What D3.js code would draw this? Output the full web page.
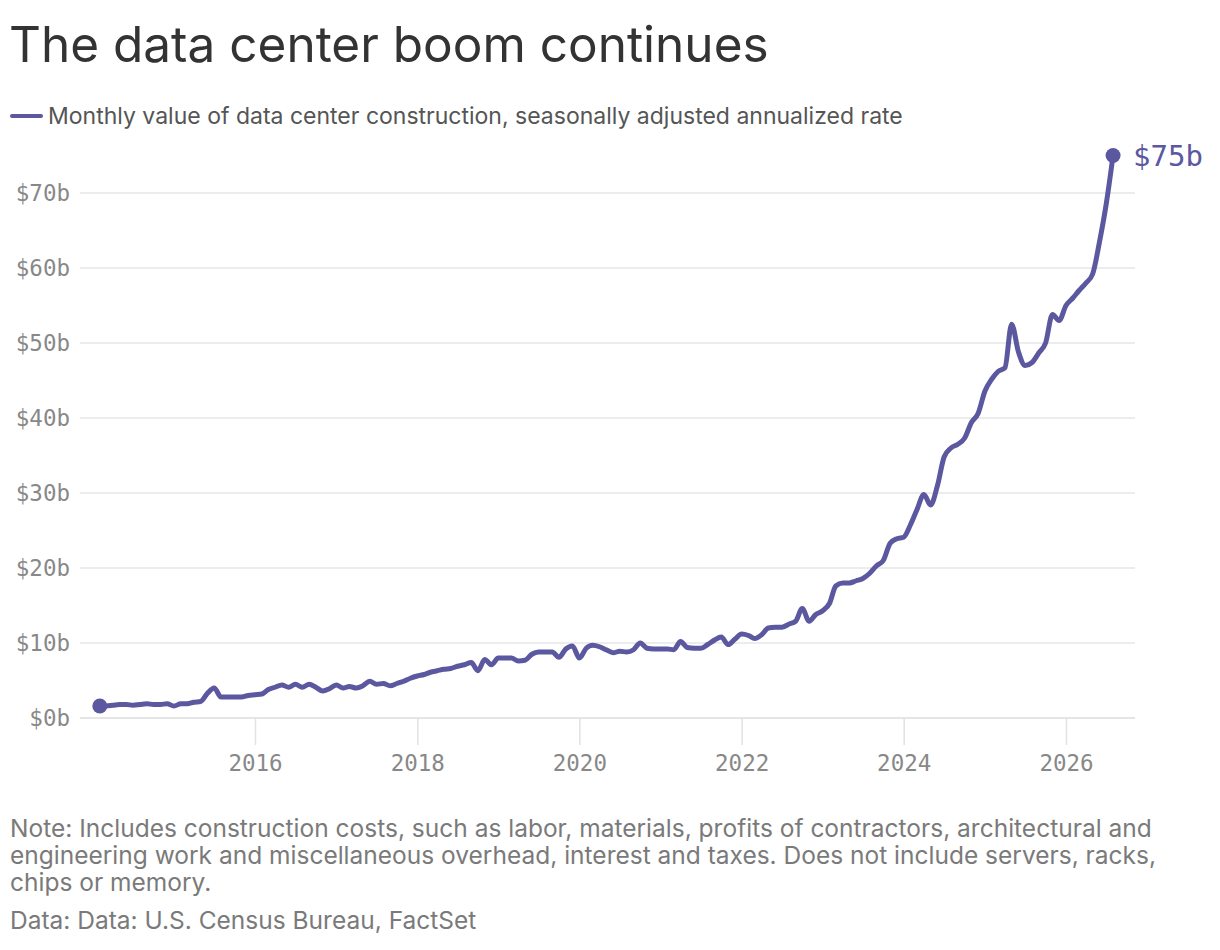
<!DOCTYPE html>
<html><head><meta charset="utf-8">
<script src="https://cdn.jsdelivr.net/npm/d3@7"></script>
<style>body{margin:0;background:#fff;}</style>
</head><body><svg id="c" width="1220" height="950"></svg>
<script>
const startMonth = "2014-02";
const values = [1.6,1.6,1.7,1.8,1.8,1.7,1.8,1.9,1.8,1.8,1.9,1.6,1.9,1.9,2.1,2.2,3.3,4.0,2.8,2.8,
2.8,2.8,3.0,3.1,3.2,3.8,4.1,4.4,4.1,4.5,4.1,4.5,4.1,3.6,3.9,4.4,4.0,4.2,4.0,4.3,
4.9,4.5,4.6,4.3,4.6,4.9,5.3,5.6,5.8,6.1,6.3,6.5,6.6,6.9,7.1,7.4,6.3,7.8,7.1,8.0,
8.0,8.0,7.6,7.7,8.5,8.8,8.8,8.8,8.1,9.2,9.6,8.0,9.3,9.7,9.5,9.1,8.7,8.9,8.8,9.1,
10.0,9.3,9.2,9.2,9.2,9.1,10.2,9.4,9.3,9.3,9.8,10.4,10.8,9.8,10.5,11.2,11.0,10.6,11.1,12.0,
12.1,12.1,12.5,12.9,14.6,12.9,13.8,14.3,15.3,17.6,18.0,18.0,18.3,18.6,19.3,20.3,21.0,23.3,23.9,24.1,
25.8,27.8,29.8,28.4,31.0,34.8,36.0,36.5,37.3,39.4,40.6,43.6,45.2,46.2,46.7,52.5,48.8,47.0,47.4,48.7,
50.0,53.8,53.0,55.0,56.0,57.0,58.0,59.2,63.5,68.5,75.0];
const yTicks = [0,10,20,30,40,50,60,70];
const xTickYears = [2016,2018,2020,2022,2024,2026];
const title = "The data center boom continues";
const legendText = "Monthly value of data center construction, seasonally adjusted annualized rate";
const noteLines = ["Note: Includes construction costs, such as labor, materials, profits of contractors, architectural and",
"engineering work and miscellaneous overhead, interest and taxes. Does not include servers, racks,",
"chips or memory."];
const source = "Data: Data: U.S. Census Bureau, FactSet";

const color = "#5b58a0";
const svg = d3.select("#c");
const font = "Inter, 'Noto Sans', sans-serif";
const mono = "'DejaVu Sans Mono', monospace";
const p = d3.timeParse("%Y-%m");
const s0 = p(startMonth);
const data = values.map((v,i)=>({d:d3.timeMonth.offset(s0,i), v}));

const x = d3.scaleTime().domain([new Date(2016,0,1), new Date(2026,0,1)]).range([255,1066]);
const y = d3.scaleLinear().domain([0,70]).range([718,193]);

svg.append("text").attr("x",9).attr("y",62).attr("font-family",font).attr("font-size",49.5)
  .attr("fill","#333").text(title);
svg.append("line").attr("x1",12).attr("x2",41).attr("y1",116).attr("y2",116)
  .attr("stroke",color).attr("stroke-width",4).attr("stroke-linecap","round");
svg.append("text").attr("x",48).attr("y",124).attr("font-family",font).attr("font-size",23)
  .attr("fill","#555").text(legendText);

const ya = svg.append("g")
  .call(d3.axisLeft(y).tickValues(yTicks).tickSize(0).tickFormat(d=>"$"+d+"b"));
ya.select(".domain").remove();
ya.selectAll("text").attr("x",70).attr("font-family",mono).attr("font-size",22.5).attr("fill","#888");
svg.append("g").selectAll("line").data(yTicks).join("line")
  .attr("x1",80).attr("x2",1135).attr("y1",d=>y(d)).attr("y2",d=>y(d))
  .attr("stroke",d=>d===0?"#ddd":"#e6e6e6").attr("stroke-width",1.5);

const xa = svg.append("g").attr("transform","translate(0,718)")
  .call(d3.axisBottom(x).tickValues(xTickYears.map(yy=>new Date(yy,0,1))).tickSize(27).tickFormat(d3.timeFormat("%Y")));
xa.select(".domain").remove();
xa.selectAll("line").attr("stroke","#e2e2e2").attr("stroke-width",1.5);
xa.selectAll("text").attr("dy","0.3em").attr("y",46).attr("font-family",mono).attr("font-size",22.5).attr("fill","#888");

svg.append("path").datum(data).attr("fill","none").attr("stroke",color).attr("stroke-width",5)
  .attr("stroke-linejoin","round").attr("stroke-linecap","round")
  .attr("d",d3.line().x(d=>x(d.d)).y(d=>y(d.v)).curve(d3.curveMonotoneX));
const first = data[0], last = data[data.length-1];
[first,last].forEach(d=>svg.append("circle").attr("cx",x(d.d)).attr("cy",y(d.v)).attr("r",7.5).attr("fill",color));
svg.append("text").attr("x",x(last.d)+20).attr("y",y(last.v)+10).attr("font-family",mono)
  .attr("font-size",29).attr("fill",color).text("$"+Math.round(last.v)+"b");

noteLines.forEach((t,i)=>svg.append("text").attr("x",10).attr("y",837+i*27).attr("font-family",font)
  .attr("font-size",24.5).attr("fill","#7a7a7a").text(t));
svg.append("text").attr("x",10).attr("y",929).attr("font-family",font).attr("font-size",24.5)
  .attr("fill","#7a7a7a").text(source);
</script></body></html>
